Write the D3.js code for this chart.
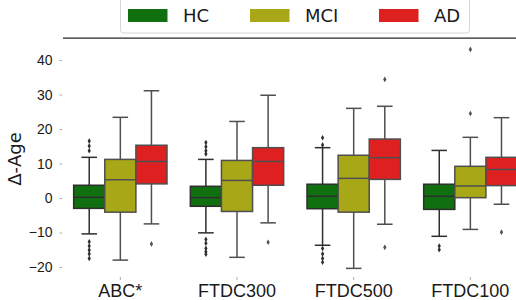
<!DOCTYPE html>
<html>
<head>
<meta charset="utf-8">
<script src="https://cdn.jsdelivr.net/npm/d3@7"></script>
<style>
  body { margin: 0; background: #fff; }
  svg { font-family: "DejaVu Sans", sans-serif; }
</style>
</head>
<body>
<svg id="chart" width="516" height="300"></svg>
<script>
// categories and groups
var datasets = ['ABC*', 'FTDC300', 'FTDC500', 'FTDC100'];
var groups = ['HC', 'MCI', 'AD'];
var groupColors = ['#107010', '#a7a718', '#df2020'];

// box stats: [whiskerLow, q1, median, q3, whiskerHigh]
var hcStats = [
    [-10.4, -3.0, 0.2, 3.7, 11.8],
    [-10.1, -2.4, 0.1, 3.4, 11.2],
    [-13.7, -3.1, 0.5, 4.0, 14.6],
    [-11.1, -3.3, 0.5, 4.0, 13.8]
];
var mciStats = [
    [-18.0, -4.1, 5.3, 11.2, 23.4],
    [-17.2, -3.9, 5.1, 10.9, 22.2],
    [-20.4, -4.1, 5.7, 12.4, 26.0],
    [-9.1, 0.1, 3.5, 9.2, 17.6]
];
var adStats = [
    [-7.5, 4.1, 10.6, 15.3, 31.1],
    [-7.2, 3.7, 10.6, 14.6, 29.8],
    [-7.6, 5.4, 11.7, 17.1, 26.6],
    [-1.8, 3.6, 8.3, 11.8, 23.3]
];

// outliers
var hcOutliers = [
    [16.5, 15.1, 13.7, -12.7, -13.9, -15.1, -16.2, -17.5],
    [16.1, 14.9, 13.7, 12.8, -12.0, -13.1, -14.6, -15.6, -16.3],
    [17.5, 15.4, -14.6, -16.2, -17.5, -18.6],
    [-13.9, -15.0]
];
var mciOutliers = [
    [],
    [],
    [],
    [43.1, 24.5]
];
var adOutliers = [
    [-13.3],
    [-12.8],
    [34.4, -14.3],
    [-9.9]
];

var yTicks = [-20, -10, 0, 10, 20, 30, 40];

var allStats = [hcStats, mciStats, adStats];
var allOutliers = [hcOutliers, mciOutliers, adOutliers];
var lineColors = ['#2e2e2e', '#4f4f4f', '#4f4f4f'];

var svg = d3.select('#chart');

var plotLeft = 62, plotRight = 528.7, plotTop = 38, plotBottom = 277;

var x = d3.scaleBand().domain(datasets).range([plotLeft, plotRight]).padding(0);
var inner = d3.scaleBand().domain(groups)
    .range([0.1 * x.bandwidth(), 0.9 * x.bandwidth()]).padding(0);
var y = d3.scaleLinear().domain([-22.9, 46.4]).range([plotBottom, plotTop]);

// top spine
svg.append('line')
    .attr('x1', plotLeft + 1).attr('x2', 516)
    .attr('y1', plotTop).attr('y2', plotTop)
    .attr('stroke', '#262626').attr('stroke-width', 1.25);

// y axis
var yAxis = svg.append('g')
    .attr('transform', 'translate(' + plotLeft + ',0)')
    .call(d3.axisLeft(y).tickValues(yTicks).tickSize(2.5).tickPadding(7));
yAxis.select('.domain').remove();
yAxis.selectAll('line').attr('stroke', '#aaa');
yAxis.selectAll('text').attr('font-size', 14).attr('fill', '#1a1a1a');

// x axis
var xAxis = svg.append('g')
    .attr('transform', 'translate(0,' + plotBottom + ')')
    .call(d3.axisBottom(x).tickSize(3).tickPadding(5));
xAxis.select('.domain').remove();
xAxis.selectAll('line').attr('stroke', '#aaa');
xAxis.selectAll('text').attr('font-size', 18).attr('fill', '#1a1a1a')
    .attr('dy', null).attr('y', 20);

// y label
svg.append('text')
    .attr('transform', 'translate(21,159) rotate(-90)')
    .attr('text-anchor', 'middle')
    .attr('font-size', 18)
    .attr('fill', '#1a1a1a')
    .text('Δ-Age');

// boxes
groups.forEach(function(g, gi) {
    var bw = inner.bandwidth();
    var stroke = lineColors[gi];
    var layer = svg.append('g');
    datasets.forEach(function(ds, di) {
        var s = allStats[gi][di];
        var x0 = x(ds) + inner(g);
        var cx = x0 + bw / 2;
        // whiskers
        layer.append('line')
            .attr('x1', cx).attr('x2', cx)
            .attr('y1', y(s[3])).attr('y2', y(s[4]))
            .attr('stroke', stroke).attr('stroke-width', 1.5);
        layer.append('line')
            .attr('x1', cx).attr('x2', cx)
            .attr('y1', y(s[1])).attr('y2', y(s[0]))
            .attr('stroke', stroke).attr('stroke-width', 1.5);
        // caps
        [s[0], s[4]].forEach(function(v) {
            layer.append('line')
                .attr('x1', cx - bw / 4).attr('x2', cx + bw / 4)
                .attr('y1', y(v)).attr('y2', y(v))
                .attr('stroke', stroke).attr('stroke-width', 1.5);
        });
        // box
        layer.append('rect')
            .attr('x', x0).attr('width', bw)
            .attr('y', y(s[3])).attr('height', y(s[1]) - y(s[3]))
            .attr('fill', groupColors[gi])
            .attr('stroke', stroke).attr('stroke-width', 1.5);
        // median
        layer.append('line')
            .attr('x1', x0).attr('x2', x0 + bw)
            .attr('y1', y(s[2])).attr('y2', y(s[2]))
            .attr('stroke', stroke).attr('stroke-width', 1.5);
        // outliers as small diamonds
        layer.selectAll(null)
            .data(allOutliers[gi][di])
            .enter()
            .append('path')
            .attr('d', d3.symbol().type(d3.symbolDiamond).size(9))
            .attr('transform', function(v) {
                return 'translate(' + cx + ',' + y(v) + ')';
            })
            .attr('fill', stroke);
    });
});

// legend
var legend = svg.append('g');
legend.append('rect')
    .attr('x', 120.5).attr('y', -5).attr('width', 349).attr('height', 38)
    .attr('rx', 3)
    .attr('fill', '#fff').attr('fill-opacity', 0.8)
    .attr('stroke', '#d6d6d6').attr('stroke-width', 1);
var legendX = [128, 250, 379];
groups.forEach(function(g, gi) {
    legend.append('rect')
        .attr('x', legendX[gi]).attr('y', 9)
        .attr('width', 39.5).attr('height', 13)
        .attr('fill', groupColors[gi]);
    legend.append('text')
        .attr('x', legendX[gi] + 55).attr('y', 22)
        .attr('font-size', 18)
        .attr('fill', '#1a1a1a')
        .text(g);
});
</script>
</body>
</html>
